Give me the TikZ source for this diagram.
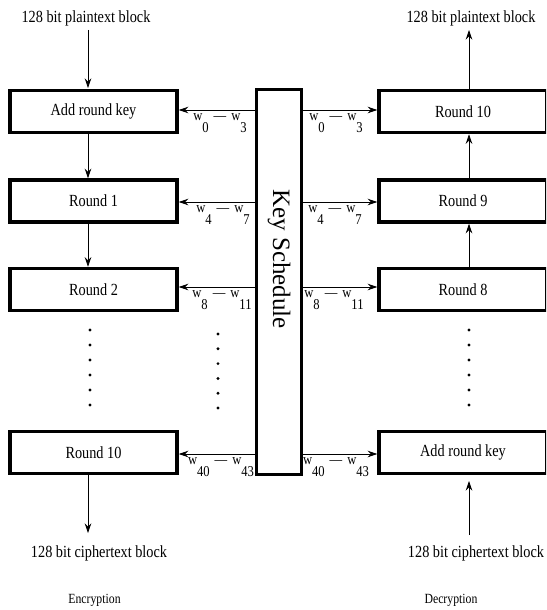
\documentclass[tikz,border=0pt]{standalone}
\usepackage{fontspec}
\setmainfont{Liberation Serif}
\newfontfamily\tallfont[FakeStretch=0.84]{Liberation Serif}
\usetikzlibrary{arrows.meta}
\newcommand{\wsub}[2]{w\raisebox{-0.8em}{#1}\,\,—\,\,w\raisebox{-0.8em}{#2}}
\tikzset{
  box/.style={draw, line width=3.5pt, minimum width=167pt, minimum height=42pt, inner sep=0pt, font=\tallfont\fontsize{17}{18}\selectfont},
  rbox/.style={box, minimum width=168pt},
  conn/.style={line width=0.8pt, -{Stealth[length=9.5pt,width=6.5pt]}},
  lbl/.style={font=\tallfont\fontsize{17}{18}\selectfont, inner sep=0pt},
  wl/.style={font=\tallfont\fontsize{15}{16}\selectfont, inner sep=0pt, anchor=north},
  captext/.style={font=\tallfont\fontsize{14}{15}\selectfont, inner sep=0pt},
  dotc/.style={fill=black, circle, inner sep=0pt, minimum size=3.2pt}
}
\begin{document}
\begin{tikzpicture}[x=1pt,y=-1pt]
\useasboundingbox (0,0) rectangle (546,610);
\begin{scope}
\clip (0,0) rectangle (546,610);
% Key schedule
\node[draw, line width=3pt, minimum width=45pt, minimum height=385pt, inner sep=0pt] (ks) at (279,281.5) {};
\node[rotate=-90, font=\fontsize{25}{26}\selectfont, inner sep=0pt] (kst) at (279,259) {Key Schedule};
% Encryption column
\node[lbl] (pt1) at (86,18) {128 bit plaintext block};
\node[box] (e0) at (93.5,111.5) {Add round key};
\node[box] (e1) at (93.5,201) {Round 1};
\node[box] (e2) at (93.5,289.5) {Round 2};
\node[box] (e10) at (93.5,452.5) {Round 10};
\node[lbl] (ct1) at (99,553) {128 bit ciphertext block};
\node[captext] (enc) at (94.5,600) {Encryption};
% Decryption column
\node[lbl] (pt2) at (471,18) {128 bit plaintext block};
\node[rbox] (d10) at (463,111.5) {Round 10};
\node[rbox] (d9) at (463,201) {Round 9};
\node[rbox] (d8) at (463,289.5) {Round 8};
\node[rbox] (d0) at (463,452.5) {Add round key};
\node[lbl] (ct2) at (476,553) {128 bit ciphertext block};
\node[captext] (dec) at (451,600) {Decryption};
% vertical flow
\coordinate (a1) at (88,30);
\coordinate (a2) at (88,88);
\draw[conn] (a1) -- (a2);
\draw[conn] (e0.south -| a1) -- (e1.north -| a1);
\draw[conn] (e1.south -| a1) -- (e2.north -| a1);
\coordinate (b1) at (88,533);
\draw[conn] (e10.south -| b1) -- (b1);
\coordinate (c1) at (469,30);
\draw[conn] (d10.north -| c1) -- (c1);
\draw[conn] (d9.north -| c1) -- (d10.south -| c1);
\draw[conn] (d8.north -| c1) -- (d9.south -| c1);
\coordinate (c2) at (469,535);
\coordinate (c3) at (469,481);
\draw[conn] (c2) -- (c3);
% key arrows
\foreach \e/\d/\yy in {e0/d10/110, e1/d9/202, e2/d8/287, e10/d0/454}{
  \draw[conn] (ks.west |- 0,\yy) -- (\e.east |- 0,\yy);
  \draw[conn] (ks.east |- 0,\yy) -- (\d.west |- 0,\yy);
}
\node[wl] (l0) at (220,113) {\wsub{0}{3}};
\node[wl] (r0) at (336,113) {\wsub{0}{3}};
\node[wl] (l1) at (223,205) {\wsub{4}{7}};
\node[wl] (r1) at (335,205) {\wsub{4}{7}};
\node[wl] (l2) at (222,290) {\wsub{8}{11}};
\node[wl] (r2) at (334,290) {\wsub{8}{11}};
\node[wl] (l3) at (221,457) {\wsub{40}{43}};
\node[wl] (r3) at (336,457) {\wsub{40}{43}};
% dots
\foreach \i in {0,...,5}{
  \node[dotc] (dl\i) at (90,330+15*\i) {};
  \node[dotc] (dm\i) at (218,334+14.8*\i) {};
  \node[dotc] (dr\i) at (469,330+15*\i) {};
}
\end{scope}
\end{tikzpicture}
\end{document}
